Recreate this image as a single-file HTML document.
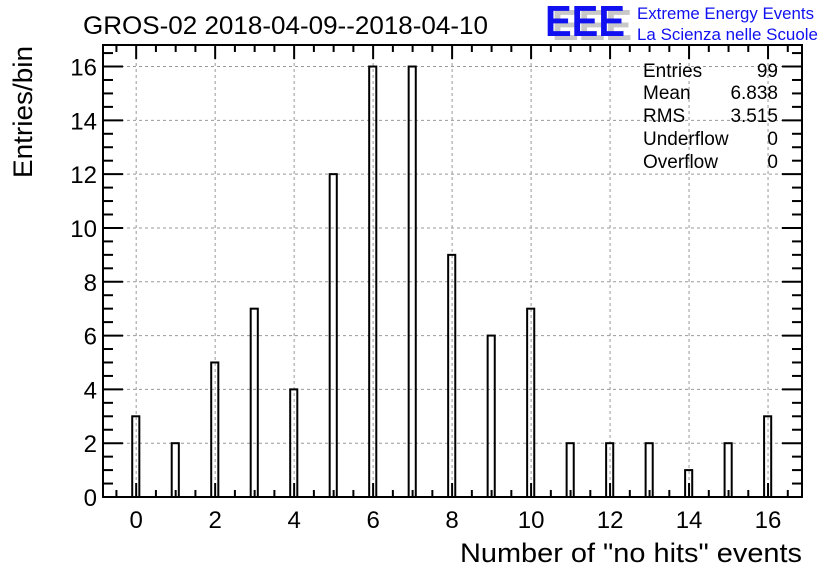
<!DOCTYPE html>
<html><head><meta charset="utf-8"><style>
body{margin:0;background:#fff}
svg text{font-family:"Liberation Sans",Arial,sans-serif}
</style></head><body>
<svg id="c" width="836" height="572" xmlns="http://www.w3.org/2000/svg">
<text x="83" y="34" font-size="25" textLength="405" lengthAdjust="spacingAndGlyphs">GROS-02 2018-04-09--2018-04-10</text>
<g>
<text x="552" y="40" font-size="44" font-weight="bold" fill="#c8c8c8" textLength="80" lengthAdjust="spacingAndGlyphs">EEE</text>
<text x="545" y="36" font-size="44" font-weight="bold" fill="#1010f0" textLength="80" lengthAdjust="spacingAndGlyphs">EEE</text>
<text x="637" y="19" font-size="16.5" fill="#1010f0" textLength="177" lengthAdjust="spacingAndGlyphs">Extreme Energy Events</text>
<text x="637" y="40" font-size="16.5" fill="#1010f0" textLength="181" lengthAdjust="spacingAndGlyphs">La Scienza nelle Scuole</text>
</g>
<g id="grid"></g><g id="bars"></g><g id="axes"></g>
<g font-size="19">
<text x="643" y="77">Entries</text><text x="778" y="77" text-anchor="end">99</text>
<text x="643" y="99">Mean</text><text x="778" y="99" text-anchor="end">6.838</text>
<text x="643" y="122">RMS</text><text x="778" y="122" text-anchor="end">3.515</text>
<text x="643" y="145">Underflow</text><text x="778" y="145" text-anchor="end">0</text>
<text x="643" y="168">Overflow</text><text x="778" y="168" text-anchor="end">0</text>
</g>
<text transform="translate(32,46) rotate(-90)" text-anchor="end" font-size="27" textLength="132" lengthAdjust="spacingAndGlyphs">Entries/bin</text>
<text x="802" y="562" text-anchor="end" font-size="27" textLength="342" lengthAdjust="spacingAndGlyphs">Number of "no hits" events</text>
</svg>
<script>
const categories=[0,1,2,3,4,5,6,7,8,9,10,11,12,13,14,15,16];
const counts=[3,2,5,7,4,12,16,16,9,6,7,2,2,2,1,2,3];
const xTickLabels=[0,2,4,6,8,10,12,14,16];
const yTickLabels=[0,2,4,6,8,10,12,14,16];
const L=103,R=802,T=45,B=497,XMIN=-0.84,XMAX=16.86,YMAX=16.8;
const sx=v=>L+(v-XMIN)/(XMAX-XMIN)*(R-L);
const sy=v=>B-v/YMAX*(B-T);
const NS='http://www.w3.org/2000/svg';
function mk(p,t,a){const e=document.createElementNS(NS,t);for(const k in a)e.setAttribute(k,a[k]);document.getElementById(p).appendChild(e);return e;}
xTickLabels.forEach(v=>{const g=mk('grid','line',{x1:sx(v),x2:sx(v),y1:T,y2:B,stroke:'#999','stroke-dasharray':'3,3'});

});
yTickLabels.forEach(v=>{if(v===0)return;const g=mk('grid','line',{x1:L,x2:R,y1:sy(v),y2:sy(v),stroke:'#999','stroke-dasharray':'3,3'});

});
categories.forEach((c,i)=>{const x0=sx(c-0.1),x1=sx(c+0.08);
const b=mk('bars','rect',{x:x0,y:sy(counts[i]),width:x1-x0,height:B-sy(counts[i]),fill:'none',stroke:'#000','stroke-width':2});

});
const fr=mk('axes','rect',{x:L,y:T,width:R-L,height:B-T,fill:'none',stroke:'#000','stroke-width':2});


for(let v=-0.5;v<=16.8;v+=0.5){const maj=Number.isInteger(v/2);const len=maj?14:7;
mk('axes','line',{x1:sx(v),x2:sx(v),y1:B,y2:B-len,stroke:'#000','stroke-width':2});
mk('axes','line',{x1:sx(v),x2:sx(v),y1:T,y2:T+len,stroke:'#000','stroke-width':2});}
for(let v=0;v<=16.8;v+=0.5){const maj=Number.isInteger(v/2);const len=maj?20:10;
mk('axes','line',{x1:L,x2:L+len,y1:sy(v),y2:sy(v),stroke:'#000','stroke-width':2});
mk('axes','line',{x1:R,x2:R-len,y1:sy(v),y2:sy(v),stroke:'#000','stroke-width':2});}
xTickLabels.forEach(v=>{const t=mk('axes','text',{x:sx(v),y:528,'text-anchor':'middle','font-size':24});t.textContent=v;

});
yTickLabels.forEach(v=>{const t=mk('axes','text',{x:97,y:sy(v)+9,'text-anchor':'end','font-size':24});t.textContent=v;

});
</script>
</body></html>
